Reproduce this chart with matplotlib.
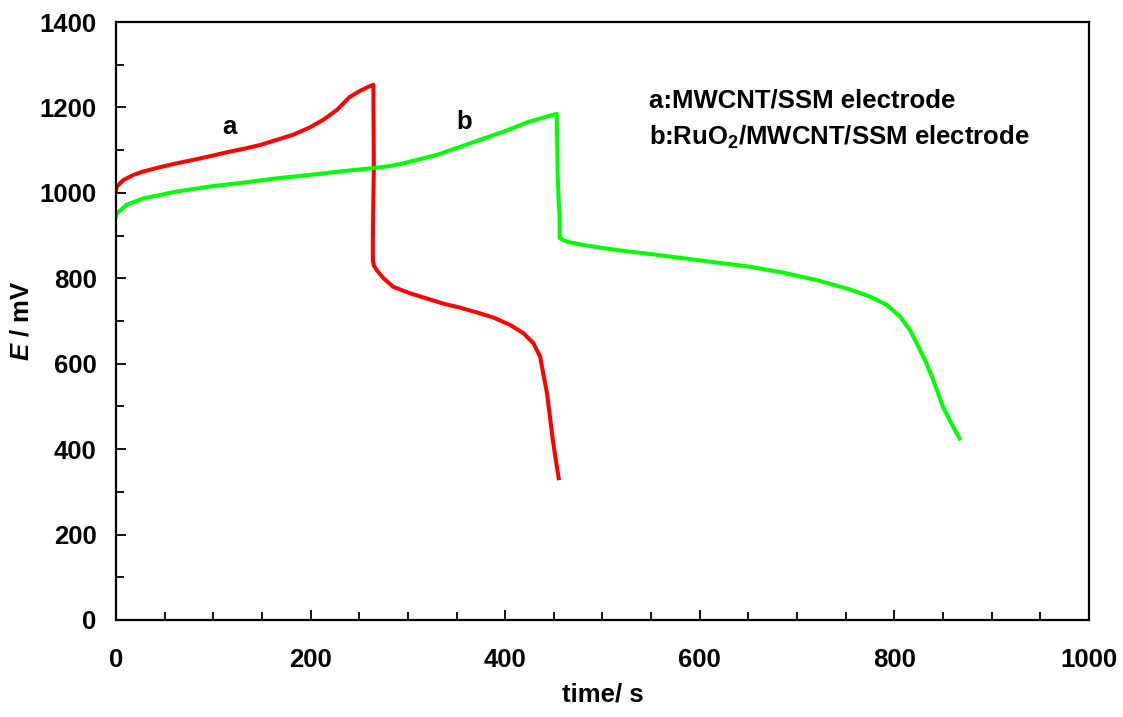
import matplotlib
matplotlib.use("Agg")
import matplotlib.pyplot as plt
from matplotlib.ticker import MultipleLocator

plt.rcParams['font.family'] = ['Liberation Sans', 'DejaVu Sans']
plt.rcParams['font.weight'] = 'bold'
plt.rcParams['mathtext.fontset'] = 'custom'
plt.rcParams['mathtext.rm'] = 'Liberation Sans:bold'
plt.rcParams['mathtext.bf'] = 'Liberation Sans:bold'
plt.rcParams['mathtext.it'] = 'Liberation Sans:bold:italic'

# curve a: MWCNT/SSM electrode (charge, then discharge)
t_a = [0, 1, 7.5, 18, 28, 45, 62, 79, 97, 114, 131, 148, 165, 182, 199, 213,
       227, 240, 251, 259, 264.5,
       265, 264.5, 264, 264, 265, 268, 275, 285, 302, 319, 336, 354, 371,
       388, 405, 419, 429, 436, 439, 443, 446, 449, 452, 455]
E_a = [1005, 1015, 1030, 1042, 1050, 1060, 1069, 1077, 1086, 1095, 1103, 1112, 1124, 1136, 1153, 1171,
       1194, 1224, 1239, 1248, 1253,
       1054, 988, 890, 843, 830, 819, 800, 780, 765, 753, 741, 731, 720,
       708, 691, 671, 648, 616, 578, 531, 476, 421, 375, 332]

# curve b: RuO2/MWCNT/SSM electrode
t_b = [0, 1, 11, 28, 45, 62, 97, 131, 165, 199, 234, 264, 282, 295, 330, 364,
       398, 425, 453,
       454, 455, 456, 456, 463, 480, 515, 549, 583, 617, 652, 686, 720,
       754, 775, 792, 806, 816, 823, 833, 840, 850, 858, 867]
E_b = [945, 952, 972, 987, 995, 1003, 1015, 1024, 1034, 1042, 1051, 1058, 1063, 1069, 1089, 1116,
       1143, 1167, 1185,
       1038, 983, 937, 894, 886, 878, 866, 857, 847, 837, 827, 813, 796,
       774, 757, 738, 710, 679, 648, 601, 562, 499, 463, 425]

fig = plt.figure(figsize=(11.23, 7.17), dpi=100)
ax = fig.add_axes([0.1033, 0.1353, 0.8664, 0.834])

ax.plot(t_a, E_a, color='#ff0000', lw=2.9, solid_joinstyle='round')
ax.plot(t_b, E_b, color='#00ff00', lw=2.9, solid_joinstyle='round')

ax.text(117, 1155, 'a', fontsize=18.5, fontweight='bold', ha='center', va='center')
ax.text(358, 1165, 'b', fontsize=18.5, fontweight='bold', ha='center', va='center')
ax.text(548, 1217, 'a:MWCNT/SSM electrode', fontsize=18.5, fontweight='bold', va='center')
ax.text(548, 1131, r'b:RuO$_{\mathbf{2}}$/MWCNT/SSM electrode', fontsize=18.5,
        fontweight='bold', va='center')

ax.set_xlim(0, 1000)
ax.set_ylim(0, 1400)
ax.xaxis.set_major_locator(MultipleLocator(200))
ax.xaxis.set_minor_locator(MultipleLocator(50))
ax.yaxis.set_major_locator(MultipleLocator(200))
ax.yaxis.set_minor_locator(MultipleLocator(100))
ax.tick_params(which='both', direction='in', top=False, right=False, width=1.3)
ax.tick_params(which='major', length=7, labelsize=18.5)
ax.tick_params(axis='x', which='major', pad=20)
ax.tick_params(axis='y', which='major', pad=14)
ax.tick_params(which='minor', length=5.5)
for sp in ax.spines.values():
    sp.set_linewidth(1.6)

ax.set_xlabel('time/ s', fontsize=18.5, fontweight='bold', labelpad=8)
ax.set_ylabel(r'$\mathit{E}$ / mV', fontsize=18.5, fontweight='bold', labelpad=4)

fig.savefig('out.png', dpi=100)
